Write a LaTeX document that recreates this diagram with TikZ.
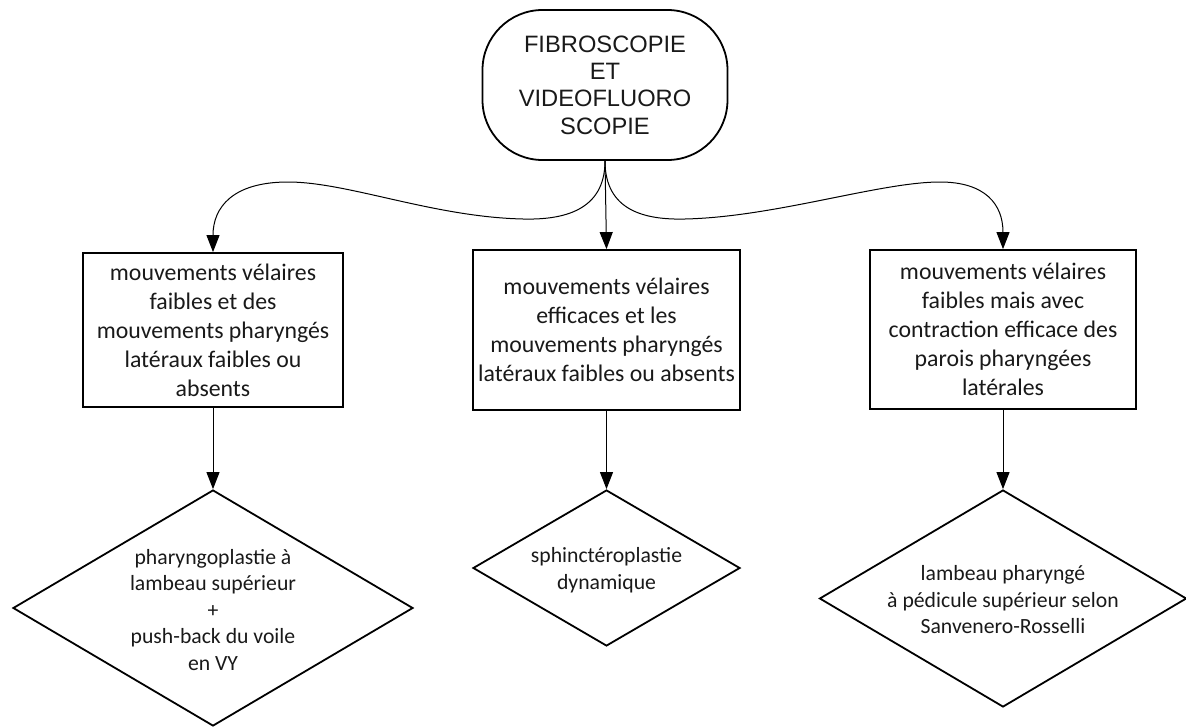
\documentclass[tikz,border=0pt]{standalone}
\usepackage{fontspec}
\setmainfont{Carlito}
\newfontfamily\headfont{Liberation Sans}
\usetikzlibrary{shapes.geometric,arrows.meta}

\begin{document}
\begin{tikzpicture}[x=1pt,y=-1pt,
  every node/.style={text=black!90},
  startbox/.style={draw=black, line width=1.8pt, rounded corners=60pt,
    minimum width=245pt, minimum height=150pt, inner sep=0pt, align=center,
    font=\headfont\fontsize{23.7}{27.3}\selectfont},
  casebox/.style={draw=black, line width=1.8pt, inner sep=0pt, align=center,
    font=\fontsize{23.8}{29}\selectfont},
  treatdia/.style={diamond, draw=black, line width=1.8pt, inner sep=0pt},
  treattext/.style={align=center, font=\fontsize{21.7}{26.5}\selectfont},
  link/.style={draw=black, line width=1pt, -{Triangle[length=17pt,width=13pt]}}
]
\useasboundingbox (0,0) rectangle (1186,726);

% starting examination
\node[startbox] (start) at (605,85) {FIBROSCOPIE\\ET\\VIDEOFLUORO\\SCOPIE};

% clinical findings
\node[casebox, minimum width=260pt, minimum height=154pt] (left) at (213,330)
  {mouvements vélaires\\faibles et des\\mouvements pharyngés\\latéraux faibles ou\\absents};
\node[casebox, minimum width=267pt, minimum height=160pt] (mid) at (606.5,330)
  {mouvements vélaires\\efficaces et les\\mouvements pharyngés\\latéraux faibles ou absents};
\node[casebox, minimum width=266pt, minimum height=159pt] (right) at (1003,329.5)
  {mouvements vélaires\\faibles mais avec\\contraction efficace des\\parois pharyngées\\latérales};

% surgical options
\node[treatdia, minimum width=400pt, minimum height=236pt] (d1) at (213,608) {};
\node[treattext] (t1) at (213,610)
  {pharyngoplastie à\\lambeau supérieur\\+\\push-back du voile\\en VY};
\node[treatdia, minimum width=267pt, minimum height=156pt] (d2) at (606.5,568) {};
\node[treattext] (t2) at (606.5,570) {sphinctéroplastie\\dynamique};
\node[treatdia, minimum width=367pt, minimum height=217pt] (d3) at (1003,598.5) {};
\node[treattext] (t3) at (1003,600)
  {lambeau pharyngé\\à pédicule supérieur selon\\Sanvenero-Rosselli};

% waypoints of the curved branches
\coordinate (lw1) at (523,219);
\coordinate (lw2) at (288,182);
\coordinate (rw1) at (685,219);
\coordinate (rw2) at (940,182);

% branches from the examination
\draw[link] (start.south) -- (mid.north);
\draw[link] (start.south) .. controls +(0,50) and +(40,1) .. (lw1)
  .. controls +(-90,-2) and +(60,0) .. (lw2)
  .. controls +(-55,0) and +(0,-45) .. (left.north);
\draw[link] (start.south) .. controls +(0,50) and +(-40,1) .. (rw1)
  .. controls +(90,-2) and +(-60,0) .. (rw2)
  .. controls +(45,0) and +(0,-45) .. (right.north);

% findings to treatments
\draw[link] (left.south) -- (d1.north);
\draw[link] (mid.south) -- (d2.north);
\draw[link] (right.south) -- (d3.north);
\end{tikzpicture}
\end{document}
